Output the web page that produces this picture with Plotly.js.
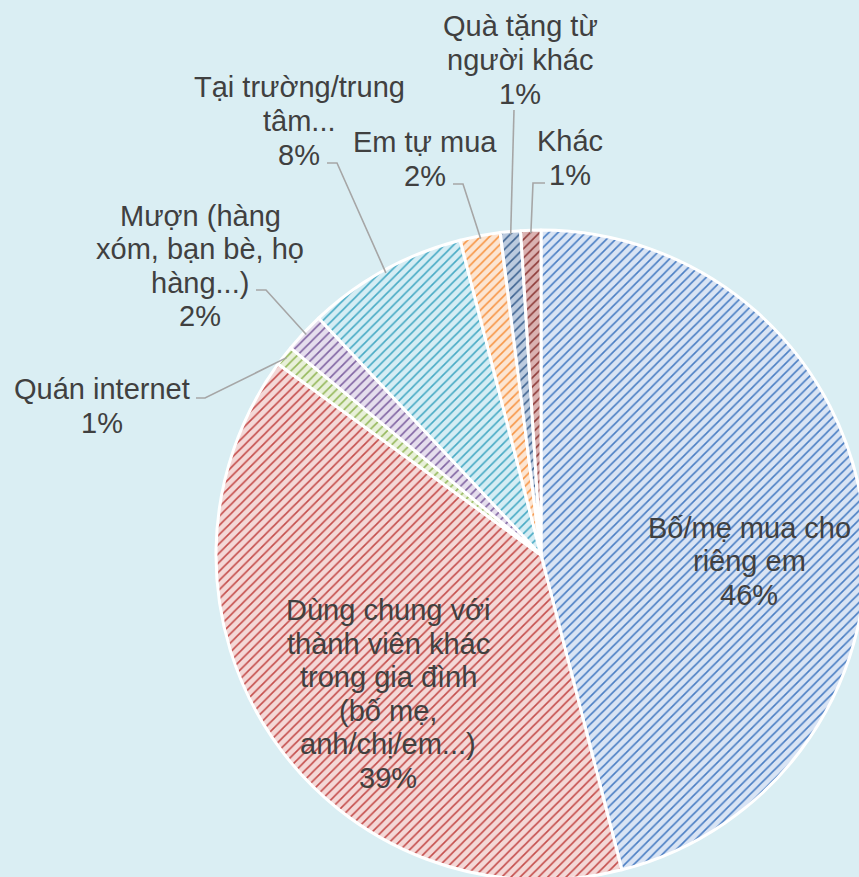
<!DOCTYPE html>
<html>
<head>
<meta charset="utf-8">
<script src="https://cdn.plot.ly/plotly-3.0.1.min.js"></script>
<style>
  html, body { margin: 0; padding: 0; overflow: hidden; background: #DAEEF3; }
  #myDiv { width: 880px; height: 890px; }
</style>
</head>
<body>
<div id="myDiv"></div>
<script>
// data
var labels = [
  "Bố/mẹ mua cho<br>riêng em",
  "Dùng chung với<br>thành viên khác<br>trong gia đình<br>(bố mẹ,<br>anh/chị/em...)",
  "Quán internet",
  "Mượn (hàng<br>xóm, bạn bè, họ<br>hàng...)",
  "Tại trường/trung<br>tâm...",
  "Em tự mua",
  "Quà tặng từ<br>người khác",
  "Khác"
];
var values = [46, 39, 1, 2, 8, 2, 1, 1];

var lineColors = ["#4A7EC3", "#C44D4B", "#94B85A", "#8064A2", "#47AAC4", "#F79646", "#3E6391", "#8E3B39"];
var fillColors = ["#D9E4F4", "#F4D8D7", "#E8F0D9", "#E5DEED", "#D5EDF4", "#FCE5D2", "#BCCBDF", "#DAB2B1"];

var W = 880, H = 890;
// pie center/radius in pixels
var cx = 541, cy = 555, R = 325;
var FONT = 29, GAP = 33.5;

// label block centers (px) and leader start/elbow (px)
var labelPos = [
  { x: 749, y: 561 },
  { x: 388, y: 694 },
  { x: 102, y: 406, lead: [[196, 398], [205, 398]] },
  { x: 200, y: 266, lead: [[256, 290], [266, 290]] },
  { x: 299, y: 121, lead: [[327, 163], [337, 163]] },
  { x: 425, y: 159, lead: [[453, 184], [463, 184]] },
  { x: 520, y: 60, lead: [[514, 110]] },
  { x: 570, y: 158, lead: [[545, 183], [533, 183]] }
];

var px = function (x) { return x / W; };
var py = function (y) { return 1 - y / H; };

var total = values.reduce(function (a, b) { return a + b; }, 0);
var annotations = [];
var shapes = [];
var cum = 0;
values.forEach(function (v, i) {
  var mid = (cum + v / 2) / total;
  cum += v;
  var pos = labelPos[i];
  var lines = labels[i].split("<br>").concat([Math.round(v / total * 100) + "%"]);
  lines.forEach(function (t, k) {
    annotations.push({
      xref: "paper", yref: "paper",
      x: px(pos.x), y: py(pos.y + (k - (lines.length - 1) / 2) * GAP),
      xanchor: "center", yanchor: "middle",
      showarrow: false,
      text: t,
      font: { family: "Liberation Sans, Arial, sans-serif", size: FONT, color: "#404040" }
    });
  });
  if (pos.lead) {
    var a = 2 * Math.PI * mid;
    var ex = cx + (R - 3) * Math.sin(a);
    var ey = cy - (R - 3) * Math.cos(a);
    var pts = pos.lead.concat([[ex, ey]]);
    var path = pts.map(function (p, k) {
      return (k ? "L" : "M") + px(p[0]) + "," + py(p[1]);
    }).join(" ");
    shapes.push({
      type: "path", xref: "paper", yref: "paper", path: path,
      line: { color: "#A6A6A6", width: 1.6 }
    });
  }
});

var trace = {
  type: "pie",
  labels: labels,
  values: values,
  sort: false,
  direction: "clockwise",
  rotation: 0,
  textinfo: "none",
  hoverinfo: "label+percent",
  domain: { x: [px(cx - R), px(cx + R)], y: [py(cy + R), py(cy - R)] },
  marker: {
    colors: lineColors,
    line: { color: "#FFFFFF", width: 3 },
    pattern: {
      shape: "/",
      fillmode: "replace",
      fgcolor: lineColors,
      bgcolor: fillColors,
      size: 6.5,
      solidity: 0.25
    }
  }
};

var layout = {
  width: W,
  height: H,
  margin: { l: 0, r: 0, t: 0, b: 0 },
  paper_bgcolor: "#DAEEF3",
  plot_bgcolor: "#DAEEF3",
  showlegend: false,
  annotations: annotations,
  shapes: shapes
};

Plotly.newPlot("myDiv", [trace], layout, { displayModeBar: false, staticPlot: true });
</script>
</body>
</html>
